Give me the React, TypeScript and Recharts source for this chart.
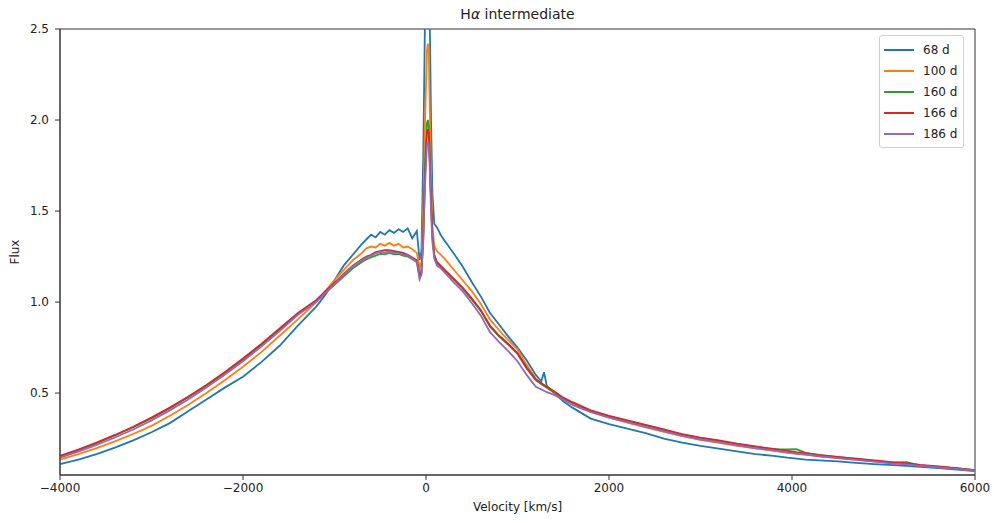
import React from 'react';
import { LineChart, Line, XAxis, YAxis, ReferenceArea } from 'recharts';

// velocity grid (km/s)
const velocity = [
  -4000, -3800, -3600, -3400, -3200, -3000, -2800, -2600, -2400, -2200,
  -2000, -1800, -1600, -1400, -1200, -1100, -1000, -900, -800, -700,
  -650, -600, -550, -500, -450, -400, -350, -300, -250, -200,
  -150, -100, -70, -50, -30, -10, 10, 20, 30, 40,
  55, 70, 90, 120, 160, 200, 300, 400, 500, 600,
  700, 800, 900, 1000, 1100, 1200, 1260, 1290, 1320, 1400,
  1500, 1600, 1800, 2000, 2200, 2400, 2600, 2800, 3000, 3200,
  3400, 3600, 3800, 3950, 4050, 4150, 4300, 4500, 4700, 4900,
  5100, 5250, 5400, 5600, 5800, 6000,
];

const flux68 = [
  0.11, 0.135, 0.165, 0.2, 0.24, 0.285, 0.335, 0.4, 0.465, 0.53,
  0.59, 0.67, 0.76, 0.87, 0.975, 1.04, 1.12, 1.2, 1.26, 1.32,
  1.345, 1.37, 1.355, 1.385, 1.37, 1.395, 1.38, 1.4, 1.385, 1.405,
  1.35, 1.39, 1.23, 1.28, 1.8, 2.6, 2.9, 2.95, 2.9, 2.6,
  2.0, 1.6, 1.43, 1.41, 1.37, 1.34, 1.27, 1.195, 1.11, 1.03,
  0.94, 0.875, 0.81, 0.75, 0.68, 0.6, 0.565, 0.615, 0.54, 0.5,
  0.455, 0.42, 0.36, 0.33, 0.305, 0.28, 0.25, 0.228, 0.21, 0.195,
  0.18, 0.165, 0.155, 0.145, 0.14, 0.135, 0.13, 0.125, 0.117, 0.11,
  0.104, 0.1, 0.095, 0.088, 0.08, 0.072,
];

const flux100 = [
  0.135, 0.165, 0.198, 0.235, 0.275, 0.32, 0.375, 0.435, 0.5, 0.57,
  0.645, 0.725, 0.815, 0.905, 1.0, 1.06, 1.12, 1.175, 1.23, 1.27,
  1.295, 1.305, 1.3, 1.32, 1.31, 1.325, 1.31, 1.32, 1.3, 1.305,
  1.29, 1.27, 1.19, 1.22, 1.5, 2.0, 2.38, 2.42, 2.38, 2.1,
  1.7, 1.42, 1.31, 1.28, 1.26, 1.24, 1.18, 1.12, 1.06, 0.99,
  0.905, 0.845, 0.79, 0.74, 0.655, 0.58, 0.55, 0.54, 0.53, 0.5,
  0.47, 0.445, 0.4, 0.365, 0.338, 0.312, 0.287, 0.263, 0.243, 0.226,
  0.21, 0.196, 0.183, 0.172, 0.166, 0.161, 0.153, 0.143, 0.134, 0.125,
  0.115, 0.11, 0.102, 0.094, 0.086, 0.075,
];

const flux160 = [
  0.152, 0.187, 0.225, 0.267, 0.312, 0.362, 0.417, 0.477, 0.54, 0.61,
  0.685, 0.765, 0.85, 0.935, 1.005, 1.05, 1.095, 1.14, 1.185, 1.22,
  1.235, 1.245, 1.255, 1.265, 1.262, 1.27, 1.262, 1.265, 1.255, 1.25,
  1.235, 1.22, 1.15, 1.17, 1.38, 1.75, 1.98, 2.0, 1.97, 1.82,
  1.56, 1.36, 1.26, 1.215, 1.195, 1.175, 1.125, 1.075, 1.015, 0.95,
  0.865, 0.81, 0.765, 0.715, 0.635, 0.57, 0.55, 0.54, 0.53, 0.505,
  0.47, 0.448, 0.403, 0.372, 0.347, 0.322, 0.297, 0.272, 0.252, 0.237,
  0.22, 0.205, 0.19, 0.19, 0.192, 0.172, 0.158, 0.148, 0.138, 0.128,
  0.118, 0.12, 0.103, 0.095, 0.086, 0.076,
];

const flux166 = [
  0.155, 0.19, 0.228, 0.27, 0.315, 0.365, 0.42, 0.48, 0.545, 0.615,
  0.69, 0.77, 0.855, 0.94, 1.01, 1.06, 1.105, 1.155, 1.2, 1.235,
  1.25, 1.26, 1.275, 1.28, 1.285, 1.285, 1.28, 1.275, 1.27, 1.26,
  1.245, 1.23, 1.14, 1.16, 1.35, 1.7, 1.93, 1.95, 1.93, 1.8,
  1.55, 1.36, 1.26, 1.22, 1.2, 1.18, 1.13, 1.08, 1.02, 0.955,
  0.87, 0.815, 0.77, 0.72, 0.64, 0.575, 0.555, 0.545, 0.535, 0.51,
  0.475, 0.45, 0.405, 0.375, 0.35, 0.325, 0.3, 0.275, 0.255, 0.24,
  0.222, 0.207, 0.193, 0.182, 0.175, 0.17, 0.16, 0.15, 0.14, 0.13,
  0.12, 0.115, 0.105, 0.097, 0.088, 0.077,
];

const flux186 = [
  0.145, 0.178, 0.215, 0.256, 0.3, 0.35, 0.405, 0.465, 0.53, 0.6,
  0.675, 0.755, 0.84, 0.93, 1.0, 1.05, 1.1, 1.15, 1.195, 1.23,
  1.245, 1.255, 1.268, 1.275, 1.272, 1.28, 1.27, 1.27, 1.26, 1.255,
  1.24, 1.22, 1.125, 1.15, 1.33, 1.65, 1.86, 1.88, 1.86, 1.75,
  1.5, 1.33, 1.24, 1.2, 1.185, 1.165, 1.11, 1.06, 0.995, 0.925,
  0.835, 0.78, 0.73, 0.675, 0.6, 0.535, 0.52, 0.513, 0.505, 0.49,
  0.465, 0.435, 0.395, 0.365, 0.34, 0.315, 0.29, 0.265, 0.245, 0.23,
  0.213, 0.198, 0.185, 0.174, 0.168, 0.163, 0.153, 0.143, 0.133, 0.123,
  0.113, 0.108, 0.1, 0.092, 0.084, 0.074,
];

const xTicks = [-4000, -2000, 0, 2000, 4000, 6000];
const yTicks = [0.5, 1.0, 1.5, 2.0, 2.5];

const series = [
  { key: 'f68', name: '68 d', color: '#1f77b4' },
  { key: 'f100', name: '100 d', color: '#ff7f0e' },
  { key: 'f160', name: '160 d', color: '#2ca02c' },
  { key: 'f166', name: '166 d', color: '#d62728' },
  { key: 'f186', name: '186 d', color: '#9467bd' },
];

const data = velocity.map((v, i) => ({
  v,
  f68: flux68[i],
  f100: flux100[i],
  f160: flux160[i],
  f166: flux166[i],
  f186: flux186[i],
}));

const font = '"DejaVu Sans", sans-serif';

const fmtX = (v: number) => (v < 0 ? '\u2212' + Math.abs(v) : String(v));

function LegendBox() {
  return (
    <div
      style={{
        position: 'absolute',
        left: 879,
        top: 35,
        background: 'rgba(255,255,255,0.8)',
        border: '1px solid #d0d0d0',
        borderRadius: 3,
        padding: '3px 6px 3px 4px',
        fontFamily: font,
        fontSize: 12,
        color: '#222',
      }}
    >
      {series.map((s) => (
        <div key={s.key} style={{ display: 'flex', alignItems: 'center', height: 21 }}>
          <svg width={30} height={4} style={{ marginRight: 9 }}>
            <line x1={0} y1={2} x2={30} y2={2} stroke={s.color} strokeWidth={2} />
          </svg>
          <span>{s.name}</span>
        </div>
      ))}
    </div>
  );
}

export default function App() {
  return (
    <div style={{ position: 'absolute', left: 0, top: 0, width: 994, height: 523, background: '#fff' }}>
      <LineChart width={994} height={523} data={data} margin={{ top: 29, right: 19, bottom: 0, left: 0 }}>
        <ReferenceArea x1={-4000} x2={6000} y1={0.05} y2={2.5} fill="none" stroke="#333" strokeWidth={1} />
        <XAxis
          dataKey="v"
          type="number"
          domain={[-4000, 6000]}
          ticks={xTicks}
          tickFormatter={fmtX}
          height={48}
          tickSize={5}
          tickMargin={3}
          stroke="#333"
          tick={{ fontSize: 12, fill: '#222', fontFamily: font }}
        />
        <YAxis
          type="number"
          domain={[0.05, 2.5]}
          allowDataOverflow
          ticks={yTicks}
          tickFormatter={(v: number) => v.toFixed(1)}
          width={60}
          tickSize={5}
          tickMargin={6}
          stroke="#333"
          tick={{ fontSize: 12, fill: '#222', fontFamily: font }}
        />
        {series.map((s) => (
          <Line
            key={s.key}
            dataKey={s.key}
            name={s.name}
            type="linear"
            stroke={s.color}
            strokeWidth={1.8}
            dot={false}
            isAnimationActive={false}
          />
        ))}
      </LineChart>
      <LegendBox />
      <div
        style={{
          position: 'absolute', left: 60, width: 915, top: 6, textAlign: 'center',
          fontFamily: font, fontSize: 14, color: '#222',
        }}
      >
        H<i>α</i> intermediate
      </div>
      <div
        style={{
          position: 'absolute', left: 60, width: 915, top: 500, textAlign: 'center',
          fontFamily: font, fontSize: 12, color: '#222',
        }}
      >
        Velocity [km/s]
      </div>
      <div
        style={{
          position: 'absolute', left: 15, top: 252, transform: 'translate(-50%, -50%) rotate(-90deg)',
          fontFamily: font, fontSize: 12, color: '#222',
        }}
      >
        Flux
      </div>
    </div>
  );
}
